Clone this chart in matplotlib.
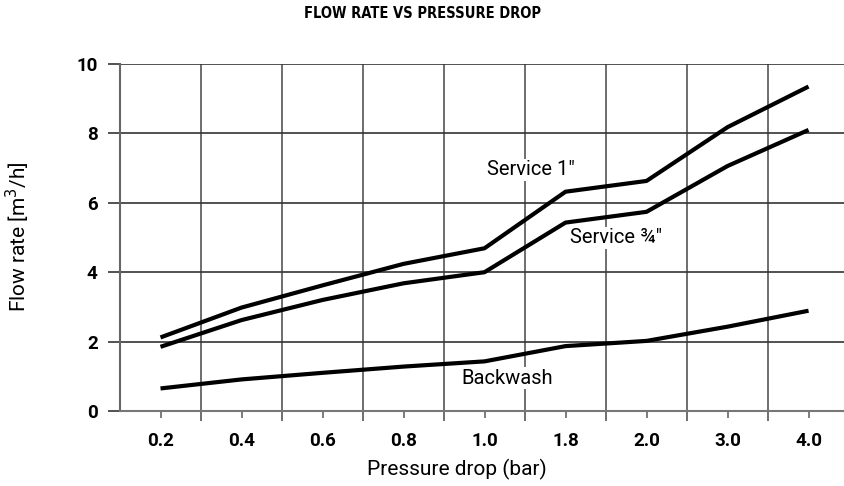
import matplotlib
matplotlib.use("Agg")
import matplotlib.pyplot as plt
from matplotlib.ticker import FixedLocator

plt.rcParams['font.family'] = ['Roboto', 'DejaVu Sans']

categories = ["0.2", "0.4", "0.6", "0.8", "1.0", "1.8", "2.0", "3.0", "4.0"]
service_1 = [2.12, 2.98, 3.62, 4.24, 4.69, 6.32, 6.63, 8.18, 9.35]
service_34 = [1.85, 2.62, 3.20, 3.68, 4.00, 5.43, 5.74, 7.06, 8.10]
backwash = [0.65, 0.91, 1.10, 1.28, 1.43, 1.87, 2.02, 2.43, 2.89]
yticks = [0, 2, 4, 6, 8, 10]

fig = plt.figure(figsize=(8.45, 4.86), dpi=100)
ax = fig.add_axes([120/845, 1-411/486, 1-120/845, (411-64)/486])

x = list(range(len(categories)))
for s in (service_1, service_34, backwash):
    ax.plot(x, s, color='black', lw=3.0, solid_capstyle='butt', zorder=3)

ax.set_xlim(-0.5, 8.45)
ax.set_ylim(0, 10)

ax.set_xticks(x)
ax.set_xticklabels(categories, fontweight='bold', fontsize=13.5)
ax.xaxis.set_minor_locator(FixedLocator([i + 0.5 for i in range(8)]))
ax.tick_params(axis='x', which='major', length=5, width=1.2, color='#666', pad=10)
ax.tick_params(axis='x', which='minor', length=7, width=1.2, color='#555')
ax.grid(axis='x', which='minor', color='#555', lw=1.2)

ax.set_yticks(yticks)
ax.set_yticklabels([str(v) for v in yticks], fontweight='bold', fontsize=13.5)
ax.tick_params(axis='y', which='major', length=9, width=1.2, color='#333', pad=7)
ax.grid(axis='y', which='major', color='#333', lw=1.2)

for side in ('top', 'right'):
    ax.spines[side].set_visible(False)
ax.spines['left'].set_color('#666')
ax.spines['left'].set_linewidth(1.5)
ax.spines['bottom'].set_color('#777')
ax.spines['bottom'].set_linewidth(1.5)
ax.set_axisbelow(True)

lab_kw = dict(fontsize=14.5, va='center', ha='left', zorder=4,
              bbox=dict(facecolor='white', edgecolor='none', pad=1))
ax.text(4.03, 6.95, 'Service 1"', **lab_kw)
ax.text(5.06, 4.99, 'Service ¾"', **lab_kw)
ax.text(3.71, 0.95, 'Backwash', **lab_kw)

fig.text(0.5, 1-14/486, 'FLOW RATE VS PRESSURE DROP', ha='center', va='center',
         fontweight='bold', fontsize=10.5, fontstretch='condensed',
         family=['DejaVu Sans'])
fig.text(18/845, 1-237/486, 'Flow rate [m$^3$/h]', rotation=90, ha='center', va='center',
         fontsize=15)
fig.text(457/845, 1-469/486, 'Pressure drop (bar)', ha='center', va='center', fontsize=15)

fig.savefig('out.png', dpi=100)
